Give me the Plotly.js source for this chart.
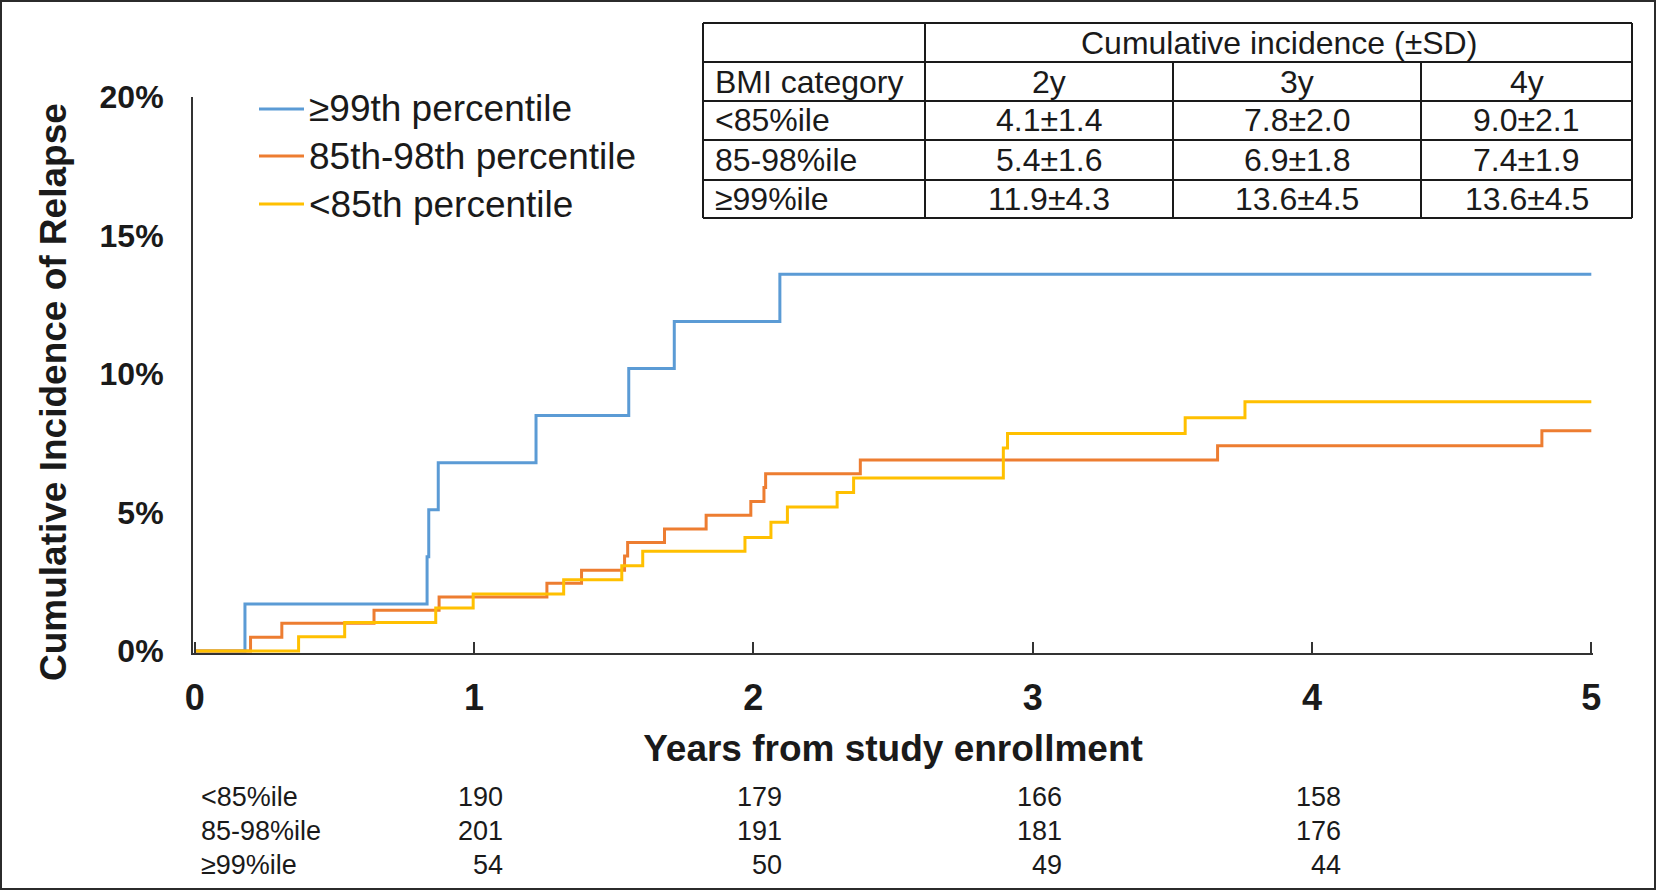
<!DOCTYPE html>
<html>
<head>
<meta charset="utf-8">
<script src="https://cdn.plot.ly/plotly-3.0.1.min.js"></script>
<style>
  html, body { margin: 0; padding: 0; background: #ffffff; }
  #chart { width: 1656px; height: 891px; }
</style>
</head>
<body>
<div id="chart"></div>
<script>
// ---- Data ----
const seriesNames = ["\u226599th percentile", "85th-98th percentile", "<85th percentile"];

const timeP99 = [0, 0.18, 0.832, 0.838, 0.872, 1.222, 1.554, 1.717, 2.095, 5];
const ciP99   = [0, 1.7, 3.4, 5.1, 6.8, 8.5, 10.2, 11.9, 13.6, 13.6];

const timeP85_98 = [0, 0.20, 0.312, 0.642, 0.875, 1.261, 1.385, 1.539, 1.55, 1.682, 1.831, 1.991, 2.038, 2.044, 2.383, 3.662, 4.823, 5];
const ciP85_98   = [0, 0.5, 1.0, 1.47, 1.95, 2.45, 2.92, 3.43, 3.92, 4.41, 4.9, 5.4, 5.9, 6.4, 6.9, 7.41, 7.95, 7.95];

const timeLt85 = [0, 0.372, 0.537, 0.863, 0.997, 1.321, 1.529, 1.604, 1.97, 2.063, 2.122, 2.3, 2.359, 2.895, 2.91, 3.546, 3.76, 5];
const ciLt85   = [0, 0.52, 1.03, 1.55, 2.06, 2.57, 3.08, 3.6, 4.1, 4.65, 5.2, 5.72, 6.25, 7.33, 7.85, 8.42, 9.0, 9.0];

const yTickVals = [0, 5, 10, 15, 20];
const xTickVals = [0, 1, 2, 3, 4, 5];
const xTitle = "Years from study enrollment";
const yTitle = "Cumulative Incidence of Relapse";

// Inset table
const tableHeader = "Cumulative incidence (\u00b1SD)";
const tableColHeads = ["BMI category", "2y", "3y", "4y"];
const tableRowLabels = ["<85%ile", "85-98%ile", "\u226599%ile"];
const tableValues = [
  ["4.1\u00b11.4", "7.8\u00b12.0", "9.0\u00b12.1"],
  ["5.4\u00b11.6", "6.9\u00b11.8", "7.4\u00b11.9"],
  ["11.9\u00b14.3", "13.6\u00b14.5", "13.6\u00b14.5"]
];

// Numbers at risk
const riskLabels = ["<85%ile", "85-98%ile", "\u226599%ile"];
const riskYears = [1, 2, 3, 4];
const riskLt85  = [190, 179, 166, 158];
const risk85_98 = [201, 191, 181, 176];
const riskP99   = [54, 50, 49, 44];

// ---- Layout geometry (pixels of the 1656x891 canvas) ----
const W = 1656, H = 891;
const PL = 193, PR = 1593, PT = 97, PB = 653;
const px = X => (X - PL) / (PR - PL);
const py = Y => (PB - Y) / (PB - PT);

const FONT = "'Liberation Sans', Arial, Helvetica, sans-serif";
const colors = ["#5B9BD5", "#ED7D31", "#FFC000"];
const INK = "#1a1a1a";

const traces = [
  {x: timeP99, y: ciP99, name: seriesNames[0]},
  {x: timeP85_98, y: ciP85_98, name: seriesNames[1]},
  {x: timeLt85, y: ciLt85, name: seriesNames[2]}
].map((t, i) => Object.assign(t, {
  type: "scatter", mode: "lines",
  line: {shape: "hv", color: colors[i], width: 3},
  showlegend: false,
  hoverinfo: "x+y+name"
}));

const shapes = [];
const annotations = [];

// outer frame
shapes.push({type: "rect", xref: "paper", yref: "paper",
  x0: px(1), x1: px(1655), y0: py(1), y1: py(889),
  line: {color: "#2b2b2b", width: 2}, fillcolor: "rgba(0,0,0,0)"});

// y-axis title (placed slightly below the plot centre, as in the reference)
annotations.push({xref: "paper", yref: "paper", x: px(53), y: py(392),
  xanchor: "center", yanchor: "middle", textangle: -90, text: yTitle, showarrow: false,
  font: {family: FONT, size: 37, color: INK, weight: "bold"}});

// legend (line sample + label)
const legRowY = [109, 156, 204];
seriesNames.forEach((nm, i) => {
  shapes.push({type: "line", xref: "paper", yref: "paper",
    x0: px(259), x1: px(304), y0: py(legRowY[i]), y1: py(legRowY[i]),
    line: {color: colors[i], width: 3}});
  annotations.push({xref: "paper", yref: "paper", x: px(307), y: py(legRowY[i]),
    xanchor: "left", yanchor: "middle", text: nm, showarrow: false,
    font: {family: FONT, size: 37, color: INK}});
});

// inset table grid
const colX = [703, 925, 1173, 1421, 1632];
const rowY = [23, 62, 101, 140, 180, 218];
const gridLine = {color: INK, width: 2};
rowY.forEach(Y => shapes.push({type: "line", xref: "paper", yref: "paper",
  x0: px(colX[0]), x1: px(colX[4]), y0: py(Y), y1: py(Y), line: gridLine}));
colX.forEach((X, ci) => {
  const top = (ci === 2 || ci === 3) ? rowY[1] : rowY[0];
  shapes.push({type: "line", xref: "paper", yref: "paper",
    x0: px(X), x1: px(X), y0: py(top), y1: py(rowY[5]), line: gridLine});
});

const tFont = {family: FONT, size: 32, color: INK};
function cellText(text, r, c, align) {
  const yc = (rowY[r] + rowY[r + 1]) / 2;
  if (align === "left") {
    annotations.push({xref: "paper", yref: "paper", x: px(colX[c] + 10), y: py(yc),
      xanchor: "left", yanchor: "middle", text: text, showarrow: false, font: tFont});
  } else {
    annotations.push({xref: "paper", yref: "paper", x: px((colX[c] + colX[c + 1]) / 2), y: py(yc),
      xanchor: "center", yanchor: "middle", text: text, showarrow: false, font: tFont});
  }
}
annotations.push({xref: "paper", yref: "paper", x: px((colX[1] + colX[4]) / 2), y: py((rowY[0] + rowY[1]) / 2),
  xanchor: "center", yanchor: "middle", text: tableHeader, showarrow: false, font: tFont});
tableColHeads.forEach((h, c) => cellText(h, 1, c, c === 0 ? "left" : "center"));
tableRowLabels.forEach((lab, r) => {
  cellText(lab, r + 2, 0, "left");
  tableValues[r].forEach((v, c) => cellText(v, r + 2, c + 1, "center"));
});

// numbers at risk
const rFont = {family: FONT, size: 27, color: INK};
const riskRows = [riskLt85, risk85_98, riskP99];
const riskRowY = [797, 831, 865];
riskLabels.forEach((lab, r) => {
  annotations.push({xref: "paper", yref: "paper", x: px(199), y: py(riskRowY[r]),
    xanchor: "left", yanchor: "middle", text: lab, showarrow: false, font: rFont});
  riskRows[r].forEach((n, k) => {
    annotations.push({xref: "x", yref: "paper", x: riskYears[k], y: py(riskRowY[r]),
      xanchor: "right", yanchor: "middle", xshift: 31, text: String(n), showarrow: false, font: rFont});
  });
});

const layout = {
  width: W, height: H,
  margin: {l: PL, r: W - PR, t: PT, b: H - PB, pad: 0},
  paper_bgcolor: "#ffffff", plot_bgcolor: "#ffffff",
  font: {family: FONT, color: INK},
  showlegend: false,
  xaxis: {
    range: [-0.006, 5.006], tickvals: xTickVals, ticktext: xTickVals.map(String),
    showline: true, linecolor: "#333333", linewidth: 2,
    ticks: "inside", ticklen: 11, tickwidth: 2, tickcolor: "#333333",
    showgrid: false, zeroline: false,
    tickfont: {family: FONT, size: 36, color: INK, weight: "bold"},
    ticklabelstandoff: 12,
    title: {text: xTitle, standoff: 18,
      font: {family: FONT, size: 37, color: INK, weight: "bold"}}
  },
  yaxis: {
    range: [-0.07, 20], tickvals: yTickVals, ticktext: yTickVals.map(v => v + "%"),
    showline: true, linecolor: "#333333", linewidth: 2,
    ticks: "", showgrid: false, zeroline: false,
    tickfont: {family: FONT, size: 32, color: INK, weight: "bold"},
    ticklabelstandoff: 21
  },
  shapes: shapes,
  annotations: annotations
};

Plotly.newPlot("chart", traces, layout, {displayModeBar: false});
</script>
</body>
</html>
